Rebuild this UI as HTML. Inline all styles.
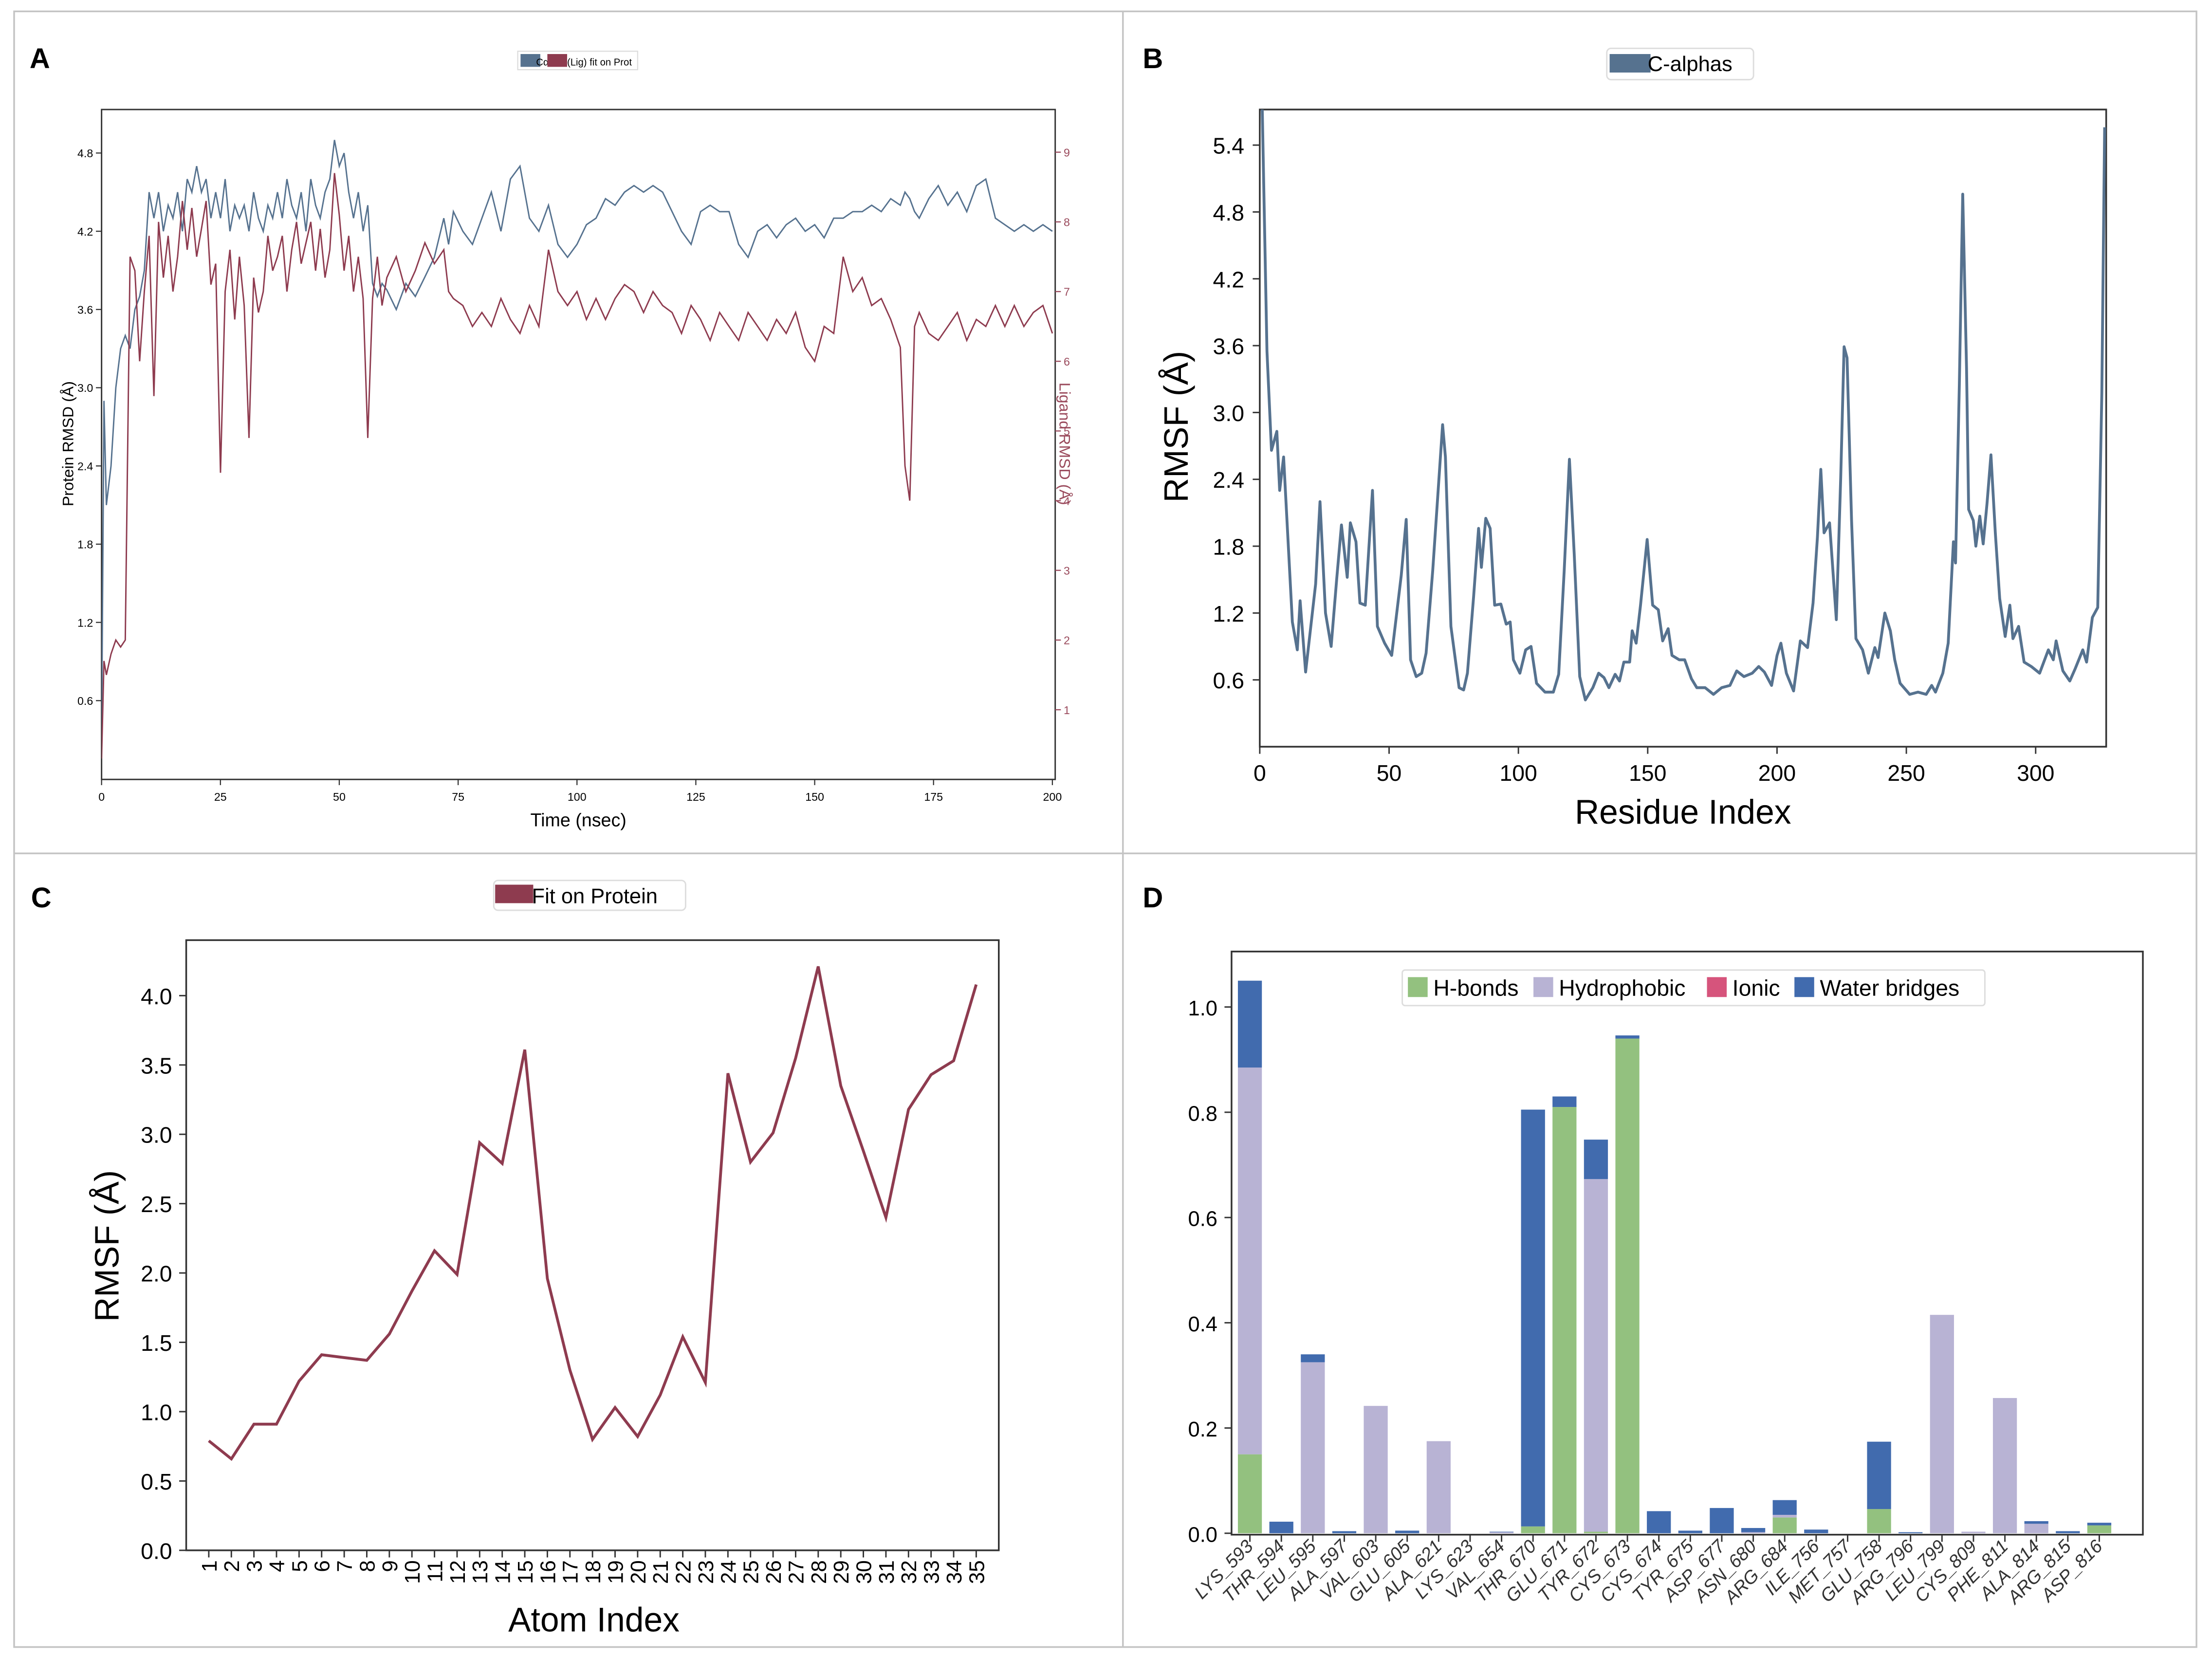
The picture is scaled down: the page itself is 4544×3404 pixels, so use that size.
<!DOCTYPE html>
<html><head><meta charset="utf-8">
<style>
html,body{margin:0;padding:0;background:#fff;}
svg{display:block;}
text{font-family:"Liberation Sans","DejaVu Sans",sans-serif;}
</style></head>
<body>
<svg id="fig" xmlns="http://www.w3.org/2000/svg" width="4544" height="3404" viewBox="0 0 1568 1165" preserveAspectRatio="none">
<defs>
<clipPath id="clipA"><rect x="72" y="77" width="676" height="471"/></clipPath>
<clipPath id="clipB"><rect x="893" y="77" width="600" height="448"/></clipPath>
</defs>
<rect x="0" y="0" width="1568" height="1165" fill="#fff"/>
<rect x="10" y="8" width="1547" height="1150" fill="none" stroke="#c4c4c4" stroke-width="1.2"/>
<line x1="796" y1="8" x2="796" y2="1158" stroke="#c4c4c4" stroke-width="1.2"/>
<line x1="10" y1="600" x2="1557" y2="600" stroke="#c4c4c4" stroke-width="1.2"/>

<text x="21" y="48" font-family="Liberation Serif,serif" font-weight="bold" font-size="20">A</text>
<text x="810" y="48" font-family="Liberation Serif,serif" font-weight="bold" font-size="20">B</text>
<text x="22" y="638" font-family="Liberation Serif,serif" font-weight="bold" font-size="20">C</text>
<text x="810" y="638" font-family="Liberation Serif,serif" font-weight="bold" font-size="20">D</text>

<!-- Panel A legend -->
<g>
<rect x="367" y="36" width="85" height="13" fill="#fff" stroke="#ddd" stroke-width="0.8"/>
<rect x="369" y="38" width="14" height="9" fill="#56728f"/>
<text x="380" y="46" font-size="7">Cα</text>
<rect x="388" y="38" width="14" height="9" fill="#8e3b4f"/>
<text x="402" y="46" font-size="7">(Lig) fit on Prot</text>
</g>
<rect x="72" y="77" width="676" height="471" fill="none" stroke="#333" stroke-width="1"/>
<text transform="translate(52,312) rotate(-90)" text-anchor="middle" font-size="11">Protein RMSD (Å)</text>
<text transform="translate(751,312) rotate(90)" text-anchor="middle" font-size="11" fill="#9a4a5c">Ligand RMSD (Å)</text>
<text x="410" y="581" text-anchor="middle" font-size="13">Time (nsec)</text>

<!-- Panel B -->
<g>
<rect x="1139" y="34" width="104" height="22" rx="3" fill="#fff" stroke="#ddd" stroke-width="1"/>
<rect x="1141" y="38" width="29" height="13" fill="#56728f"/>
<text x="1168" y="50" font-size="15">C-alphas</text>
</g>
<rect x="893" y="77" width="600" height="448" fill="none" stroke="#333" stroke-width="1.2"/>
<text transform="translate(842,300) rotate(-90)" text-anchor="middle" font-size="24">RMSF (Å)</text>
<text x="1193" y="579" text-anchor="middle" font-size="24">Residue Index</text>

<!-- Panel C -->
<g>
<rect x="350" y="619" width="136" height="21" rx="3" fill="#fff" stroke="#ddd" stroke-width="1"/>
<rect x="351" y="622" width="27" height="13" fill="#8e3b4f"/>
<text x="377" y="635" font-size="15">Fit on Protein</text>
</g>
<rect x="132" y="661" width="576" height="429" fill="none" stroke="#333" stroke-width="1.2"/>
<text transform="translate(84,876) rotate(-90)" text-anchor="middle" font-size="24">RMSF (Å)</text>
<text x="421" y="1147" text-anchor="middle" font-size="24">Atom Index</text>

<!-- Panel D -->
<rect x="873" y="669" width="646" height="410" fill="none" stroke="#333" stroke-width="1.2"/>
<g>
<rect x="994" y="682" width="413" height="25" rx="2" fill="#fff" stroke="#ddd" stroke-width="1"/>
<rect x="998" y="687" width="14" height="14" fill="#93c17f"/>
<text x="1016" y="700" font-size="16">H-bonds</text>
<rect x="1087" y="687" width="14" height="14" fill="#b8b3d4"/>
<text x="1105" y="700" font-size="16">Hydrophobic</text>
<rect x="1210" y="687" width="14" height="14" fill="#d6547c"/>
<text x="1228" y="700" font-size="16">Ionic</text>
<rect x="1272" y="687" width="14" height="14" fill="#416bae"/>
<text x="1290" y="700" font-size="16">Water bridges</text>
</g>
<g id="layer"></g>
</svg>
<script>
// ---------- Panel A data ----------
var timeA = [0,0.5,1,2,3,4,5,6,7,8,9,10,11,12,13,14,15,16,17,18,19,20,21,22,23,24,25,26,27,28,29,30,31,32,33,34,35,36,37,38,39,40,41,42,43,44,45,46,47,48,49,50,51,52,53,54,55,56,57,58,59,60,62,64,66,68,70,72,73,74,76,78,80,82,84,86,88,90,92,94,96,98,100,102,104,106,108,110,112,114,116,118,120,122,124,126,128,130,132,134,136,138,140,142,144,146,148,150,152,154,156,158,160,162,164,166,168,169,170,171,172,174,176,178,180,182,184,186,188,190,192,194,196,198,200];
var proteinRmsd = [0.3,2.9,2.1,2.4,3.0,3.3,3.4,3.3,3.6,3.7,3.9,4.5,4.3,4.5,4.2,4.4,4.3,4.5,4.2,4.6,4.5,4.7,4.5,4.6,4.3,4.5,4.3,4.6,4.2,4.4,4.3,4.4,4.2,4.5,4.3,4.2,4.4,4.3,4.5,4.3,4.6,4.4,4.3,4.5,4.2,4.6,4.4,4.3,4.5,4.6,4.9,4.7,4.8,4.5,4.3,4.5,4.2,4.4,3.8,3.7,3.8,3.75,3.6,3.8,3.7,3.85,4.0,4.3,4.1,4.35,4.2,4.1,4.3,4.5,4.2,4.6,4.7,4.3,4.2,4.4,4.1,4.0,4.1,4.25,4.3,4.45,4.4,4.5,4.55,4.5,4.55,4.5,4.35,4.2,4.1,4.35,4.4,4.35,4.35,4.1,4.0,4.2,4.25,4.15,4.25,4.3,4.2,4.25,4.15,4.3,4.3,4.35,4.35,4.4,4.35,4.45,4.4,4.5,4.45,4.35,4.3,4.45,4.55,4.4,4.5,4.35,4.55,4.6,4.3,4.25,4.2,4.25,4.2,4.25,4.2];
var ligandRmsd = [0.3,1.7,1.5,1.8,2.0,1.9,2.0,7.5,7.3,6.0,7.0,7.8,5.5,8.0,7.2,7.8,7.0,7.5,8.3,7.6,8.2,7.5,7.9,8.3,7.1,7.4,4.4,7.0,7.6,6.6,7.5,6.8,4.9,7.2,6.7,7.0,7.8,7.3,7.5,7.8,7.0,7.6,8.0,7.4,7.7,8.0,7.3,7.9,7.2,7.6,8.7,8.1,7.3,7.8,7.0,7.5,6.9,4.9,6.9,7.5,6.8,7.2,7.5,7.0,7.3,7.7,7.4,7.6,7.0,6.9,6.8,6.5,6.7,6.5,6.9,6.6,6.4,6.8,6.5,7.6,7.0,6.8,7.0,6.6,6.9,6.6,6.9,7.1,7.0,6.7,7.0,6.8,6.7,6.4,6.8,6.6,6.3,6.7,6.5,6.3,6.7,6.5,6.3,6.6,6.4,6.7,6.2,6.0,6.5,6.4,7.5,7.0,7.2,6.8,6.9,6.6,6.2,4.5,4.0,6.5,6.7,6.4,6.3,6.5,6.7,6.3,6.6,6.5,6.8,6.5,6.8,6.5,6.7,6.8,6.4];
var leftTicksA = [0.6,1.2,1.8,2.4,3.0,3.6,4.2,4.8];
var rightTicksA = [1,2,3,4,5,6,7,8,9];
var xTicksA = [0,25,50,75,100,125,150,175,200];

// ---------- Panel B data ----------
var residues = [0,1,2.8,4.5,6.6,7.7,9.2,12.6,14.5,15.6,17.7,21.6,23.3,25.4,27.6,29.7,31.6,33.8,35,37.2,38.7,40.8,43.6,45.5,48.3,51,54.7,56.6,58.3,60.5,62.6,64.3,66.9,70.7,71.8,73.9,77.1,78.8,80.3,82.7,84.6,85.7,87.4,89.1,90.8,93.2,95.3,96.8,98.1,100.6,102.8,104.9,107,110.3,113.5,115.6,117.7,119.7,121.6,123.7,125.9,128.8,131,133.1,135,137.4,139.1,140.8,143,144,145.5,147.2,149.8,151.9,154.1,155.8,157.9,159.4,162.2,164.3,166.9,169,172.2,175.4,178.6,181.8,184.4,187.2,190.4,192.9,195.1,197.9,200,201.5,203.6,206.4,209,211.8,213.9,215.6,216.9,218.2,220.3,221.4,222.9,224.6,225.9,227.1,228.8,230.5,233.1,235.3,237.8,239.1,241.7,243.8,245.5,247.6,251.3,254.5,257.7,259.8,261.3,264.1,266.2,268.2,269,270.5,271.8,273.3,274.1,275.9,276.9,278.4,279.7,281.2,282.7,284.4,286.1,288.2,290,291.2,293.4,295.5,298.3,301.5,304.9,306.8,307.9,310.5,313.2,315.3,318.2,319.7,321.9,324,325.6,326.7];
var rmsfB = [6.2,5.7,3.55,2.66,2.83,2.30,2.60,1.12,0.87,1.31,0.67,1.46,2.20,1.20,0.90,1.50,1.99,1.52,2.01,1.84,1.29,1.27,2.30,1.08,0.93,0.82,1.54,2.04,0.78,0.63,0.66,0.84,1.58,2.89,2.60,1.08,0.53,0.51,0.66,1.35,1.96,1.61,2.05,1.96,1.27,1.28,1.10,1.12,0.78,0.66,0.87,0.90,0.57,0.49,0.49,0.65,1.58,2.58,1.73,0.63,0.42,0.53,0.66,0.62,0.53,0.65,0.59,0.76,0.76,1.04,0.93,1.27,1.86,1.27,1.23,0.95,1.06,0.82,0.78,0.78,0.61,0.53,0.53,0.47,0.53,0.55,0.68,0.63,0.66,0.72,0.67,0.55,0.82,0.93,0.66,0.50,0.95,0.89,1.29,1.88,2.49,1.92,2.01,1.65,1.14,2.41,3.59,3.49,2.03,0.97,0.87,0.66,0.89,0.80,1.20,1.04,0.78,0.57,0.47,0.49,0.47,0.55,0.49,0.66,0.93,1.84,1.65,3.25,4.96,3.40,2.13,2.03,1.80,2.07,1.82,2.18,2.62,1.92,1.33,0.99,1.27,0.97,1.08,0.76,0.72,0.66,0.87,0.78,0.95,0.68,0.59,0.70,0.87,0.76,1.16,1.25,3.17,5.56];
var yTicksB = [0.6,1.2,1.8,2.4,3.0,3.6,4.2,4.8,5.4];
var xTicksB = [0,50,100,150,200,250,300];

// ---------- Panel C data ----------
var atoms = [1,2,3,4,5,6,7,8,9,10,11,12,13,14,15,16,17,18,19,20,21,22,23,24,25,26,27,28,29,30,31,32,33,34,35];
var rmsfC = [0.79,0.66,0.91,0.91,1.22,1.41,1.39,1.37,1.56,1.87,2.16,1.99,2.94,2.79,3.61,1.96,1.30,0.80,1.03,0.82,1.12,1.54,1.21,3.44,2.80,3.01,3.55,4.21,3.35,2.88,2.40,3.18,3.43,3.53,4.08];
var yTicksC = [0.0,0.5,1.0,1.5,2.0,2.5,3.0,3.5,4.0];

// ---------- Panel D data ----------
var residueNames = ["LYS_593","THR_594","LEU_595","ALA_597","VAL_603","GLU_605","ALA_621","LYS_623","VAL_654","THR_670","GLU_671","TYR_672","CYS_673","CYS_674","TYR_675","ASP_677","ASN_680","ARG_684","ILE_756","MET_757","GLU_758","ARG_796","LEU_799","CYS_809","PHE_811","ALA_814","ARG_815","ASP_816"];
var hbonds      = [0.15,0,0,0,0,0,0,0,0,0.013,0.81,0.003,0.94,0,0,0,0,0.03,0,0,0.046,0,0,0,0,0,0,0.015];
var hydrophobic = [0.735,0,0.325,0,0.242,0,0.175,0,0.002,0,0,0.67,0,0,0,0,0.002,0.005,0,0,0,0,0.415,0.003,0.257,0.018,0,0];
var ionic       = [0,0,0,0,0,0,0,0,0,0,0,0,0,0,0,0,0,0,0,0,0,0,0,0,0,0,0,0];
var water       = [0.165,0.022,0.015,0.004,0,0.005,0,0,0.001,0.792,0.02,0.075,0.006,0.042,0.005,0.048,0.008,0.028,0.007,0,0.128,0.002,0,0,0,0.005,0.004,0.005];
var yTicksD = [0.0,0.2,0.4,0.6,0.8,1.0];

// ---------- axis functions ----------
function xA(t){return 72+t*(674/200);}
function yAL(v){return 547.6-v*91.67;}
function yAR(v){return 548-v*49;}
function xB(r){return 893+r*(550/300);}
function yB(v){return 525-v*78.33;}
function xC(i){return 148+(i-1)*16;}
function yC(v){return 1090-v*97.5;}
function xD(i){return 886+i*22.3;}
function yD(v){return 1078-v*370;}

var NS="http://www.w3.org/2000/svg";
var layer=document.getElementById('layer');
function mk(tag,parent){var e=document.createElementNS(NS,tag);(parent||layer).appendChild(e);return e;}
function fmt1(v){return v.toFixed(1);}

// ---------- Panel A ----------
var e,i,d;
leftTicksA.forEach(function(v){
  e=mk('line');e.setAttribute('x1',68);e.setAttribute('x2',72);e.setAttribute('y1',yAL(v));e.setAttribute('y2',yAL(v));e.setAttribute('stroke','#333');e.setAttribute('stroke-width','0.8');
  
  
  e=mk('text');e.setAttribute('x',66);e.setAttribute('y',yAL(v)+3);e.setAttribute('text-anchor','end');e.setAttribute('font-size','8');e.textContent=fmt1(v);
  
  
});
rightTicksA.forEach(function(v){
  e=mk('line');e.setAttribute('x1',748);e.setAttribute('x2',752);e.setAttribute('y1',yAR(v));e.setAttribute('y2',yAR(v));e.setAttribute('stroke','#9a4a5c');e.setAttribute('stroke-width','0.8');
  
  
  e=mk('text');e.setAttribute('x',754);e.setAttribute('y',yAR(v)+3);e.setAttribute('font-size','8');e.setAttribute('fill','#9a4a5c');e.textContent=v;
  
  
});
xTicksA.forEach(function(t){
  e=mk('line');e.setAttribute('x1',xA(t));e.setAttribute('x2',xA(t));e.setAttribute('y1',548);e.setAttribute('y2',552);e.setAttribute('stroke','#333');e.setAttribute('stroke-width','0.8');
  
  
  e=mk('text');e.setAttribute('x',xA(t));e.setAttribute('y',563);e.setAttribute('text-anchor','middle');e.setAttribute('font-size','8');e.textContent=t;
  
  
});
d='';for(i=0;i<timeA.length;i++){d+=(i?'L':'M')+xA(timeA[i]).toFixed(1)+','+yAL(proteinRmsd[i]).toFixed(1);}
e=mk('path');e.setAttribute('d',d);e.setAttribute('fill','none');e.setAttribute('stroke','#56728f');e.setAttribute('stroke-width','1');e.setAttribute('clip-path','url(#clipA)');


d='';for(i=0;i<timeA.length;i++){d+=(i?'L':'M')+xA(timeA[i]).toFixed(1)+','+yAR(ligandRmsd[i]).toFixed(1);}
e=mk('path');e.setAttribute('d',d);e.setAttribute('fill','none');e.setAttribute('stroke','#8e3b4f');e.setAttribute('stroke-width','1');e.setAttribute('clip-path','url(#clipA)');



// ---------- Panel B ----------
yTicksB.forEach(function(v){
  e=mk('line');e.setAttribute('x1',888);e.setAttribute('x2',893);e.setAttribute('y1',yB(v));e.setAttribute('y2',yB(v));e.setAttribute('stroke','#333');
  
  
  e=mk('text');e.setAttribute('x',882);e.setAttribute('y',yB(v)+6);e.setAttribute('text-anchor','end');e.setAttribute('font-size','16');e.textContent=fmt1(v);
  
  
});
xTicksB.forEach(function(r){
  e=mk('line');e.setAttribute('x1',xB(r));e.setAttribute('x2',xB(r));e.setAttribute('y1',525);e.setAttribute('y2',530);e.setAttribute('stroke','#333');
  
  
  e=mk('text');e.setAttribute('x',xB(r));e.setAttribute('y',549);e.setAttribute('text-anchor','middle');e.setAttribute('font-size','16');e.textContent=r;
  
  
});
d='';for(i=0;i<residues.length;i++){d+=(i?'L':'M')+xB(residues[i]).toFixed(1)+','+yB(rmsfB[i]).toFixed(1);}
e=mk('path');e.setAttribute('d',d);e.setAttribute('fill','none');e.setAttribute('stroke','#56728f');e.setAttribute('stroke-width','2');e.setAttribute('stroke-linejoin','round');e.setAttribute('clip-path','url(#clipB)');



// ---------- Panel C ----------
yTicksC.forEach(function(v){
  e=mk('line');e.setAttribute('x1',127);e.setAttribute('x2',132);e.setAttribute('y1',yC(v));e.setAttribute('y2',yC(v));e.setAttribute('stroke','#333');
  
  
  e=mk('text');e.setAttribute('x',122);e.setAttribute('y',yC(v)+6);e.setAttribute('text-anchor','end');e.setAttribute('font-size','16');e.textContent=fmt1(v);
  
  
});
atoms.forEach(function(a){
  e=mk('line');e.setAttribute('x1',xC(a));e.setAttribute('x2',xC(a));e.setAttribute('y1',1090);e.setAttribute('y2',1095);e.setAttribute('stroke','#333');
  
  
  e=mk('text');e.setAttribute('transform','translate('+(xC(a)+5.5)+',1097) rotate(-90)');e.setAttribute('text-anchor','end');e.setAttribute('font-size','15');e.textContent=a;
  
  
});
d='';for(i=0;i<atoms.length;i++){d+=(i?'L':'M')+xC(atoms[i]).toFixed(1)+','+yC(rmsfC[i]).toFixed(1);}
e=mk('path');e.setAttribute('d',d);e.setAttribute('fill','none');e.setAttribute('stroke','#8e3b4f');e.setAttribute('stroke-width','2');



// ---------- Panel D ----------
yTicksD.forEach(function(v){
  e=mk('line');e.setAttribute('x1',868);e.setAttribute('x2',873);e.setAttribute('y1',yD(v));e.setAttribute('y2',yD(v));e.setAttribute('stroke','#333');
  
  
  e=mk('text');e.setAttribute('x',863);e.setAttribute('y',yD(v)+6);e.setAttribute('text-anchor','end');e.setAttribute('font-size','15');e.textContent=fmt1(v);
  
  
});
var segColors=['#93c17f','#b8b3d4','#d6547c','#416bae'];
var segNames=['hbonds','hydrophobic','ionic','water-bridges'];
residueNames.forEach(function(nm,k){
  var vals=[hbonds[k],hydrophobic[k],ionic[k],water[k]];
  var base=0;
  for(var s=0;s<4;s++){
    if(vals[s]>0){
      e=mk('rect');e.setAttribute('x',xD(k)-8.5);e.setAttribute('width',17);e.setAttribute('y',yD(base+vals[s]));e.setAttribute('height',yD(base)-yD(base+vals[s]));e.setAttribute('fill',segColors[s]);
      
      
    }
    base+=vals[s];
  }
  e=mk('line');e.setAttribute('x1',xD(k));e.setAttribute('x2',xD(k));e.setAttribute('y1',1079);e.setAttribute('y2',1084);e.setAttribute('stroke','#333');
  
  
  e=mk('text');e.setAttribute('transform','translate('+(xD(k)+3)+',1088) rotate(-45)');e.setAttribute('text-anchor','end');e.setAttribute('font-size','13');e.setAttribute('font-style','italic');e.setAttribute('fill','#333');e.textContent=nm;
  
  
});
</script>
</body></html>
